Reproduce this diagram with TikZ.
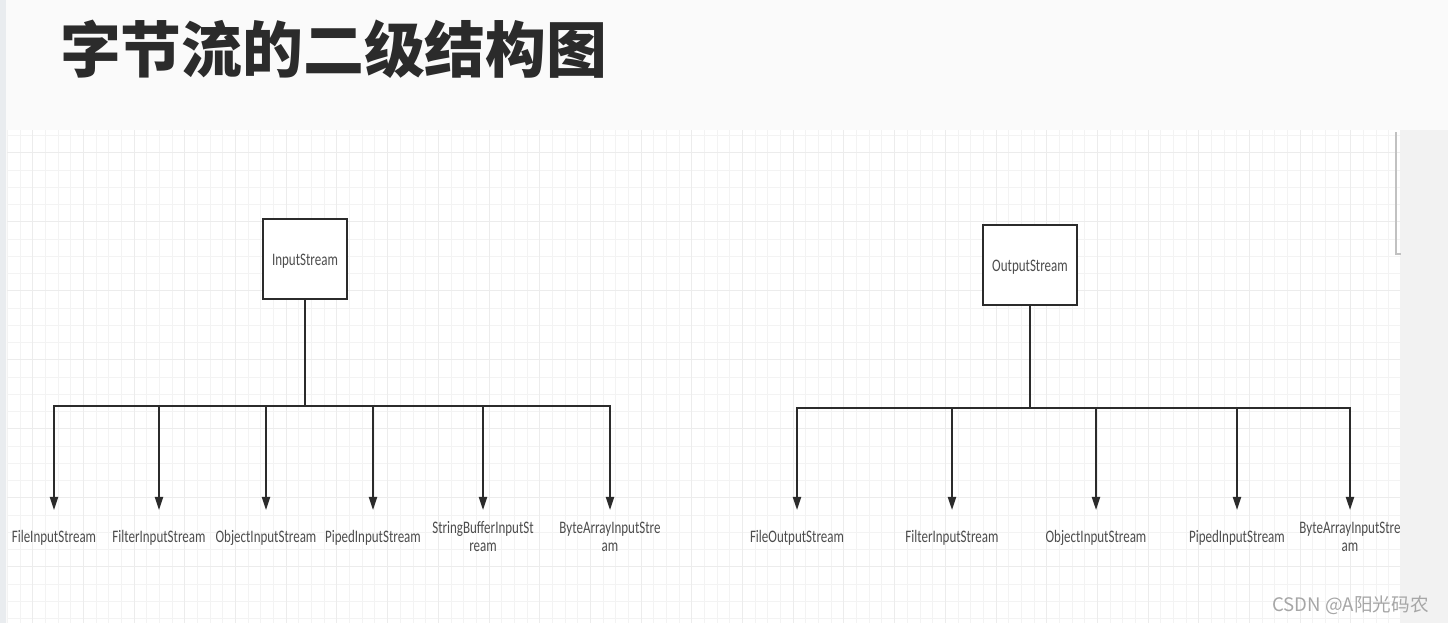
\documentclass[tikz,border=0pt]{standalone}
\usepackage{fontspec}
\setmainfont{Carlito}
\newfontfamily\cjk{Noto Sans CJK SC}
\usetikzlibrary{positioning, arrows.meta}
\definecolor{ink}{HTML}{2B2B2B}
\definecolor{txt}{HTML}{4D4D4D}
\definecolor{gridmin}{HTML}{F3F3F3}
\definecolor{gridmaj}{HTML}{ECECEC}
\definecolor{paper}{HTML}{FAFAFA}
\definecolor{side}{HTML}{F2F2F2}
\definecolor{edge}{HTML}{E9ECEF}
\definecolor{mark}{HTML}{A6A6A6}
\newcommand{\squeeze}[1]{\raisebox{-1.6pt}[\height][\depth]{\scalebox{0.74}[1]{\renewcommand{\arraystretch}{0.85}\begin{tabular}{@{}c@{}}#1\end{tabular}}}}
\tikzset{
  cls/.style={draw=ink, fill=white, line width=1.1pt, minimum height=1.6cm, inner sep=1pt,
              font=\fontsize{10}{12}\selectfont, text=txt},
  sub/.style={font=\fontsize{10}{12}\selectfont, text=txt, inner sep=0pt},
  conn/.style={draw=ink, line width=1.1pt},
  arr/.style={conn, -{Triangle[length=7.5pt, width=4.6pt]}},
  gmin/.style={draw=gridmin, line width=0.5pt},
  gmaj/.style={draw=gridmaj, line width=0.55pt},
}

\begin{document}
\begin{tikzpicture}[x=0.02cm, y=-0.02cm]
  \useasboundingbox (0,0) rectangle (1448,623);
  % page and grid paper
  \fill[paper] (0,0) rectangle (1448,623);
  \fill[side] (1400,130) rectangle (1448,623);
  \fill[edge] (0,0) rectangle (6,623);
  \fill[white] (7,130) rectangle (1400,623);
  \begin{scope}
    \clip (7,130) rectangle (1400,623);
    \foreach \i in {-1,...,27} \foreach \k in {1,2,3}
      \draw[gmin] ({32.7+50.7*\i+12.675*\k},130) -- ++(0,493);
    \foreach \j in {-1,...,6} \foreach \k in {1,2,3}
      \draw[gmin] (7,{152.7+69*\j+17.25*\k}) -- ++(1393,0);
    \foreach \i in {0,...,27} \draw[gmaj] ({32.7+50.7*\i},130) -- ++(0,493);
    \foreach \j in {0,...,6} \draw[gmaj] (7,{152.7+69*\j}) -- ++(1393,0);
  \end{scope}
  \draw[mark!70, line width=0.6pt] (1396,132) -- (1396,254) -- (1401,254);

  \node[font=\cjk\bfseries\fontsize{34.6}{35}\selectfont, text=ink, anchor=west] (title) at (54,49) {字节流的二级结构图};

  % InputStream
  \node[cls, minimum width=1.68cm] (in) at (305,259) {\squeeze{InputStream}};
  \coordinate (ibus) at (0,406);
  \coordinate (itip) at (0,510);
  \node[sub] (fis)  at (54,536)  {\squeeze{FileInputStream}};
  \node[sub] (flis) at (159,536) {\squeeze{FilterInputStream}};
  \node[sub] (ois)  at (266,536) {\squeeze{ObjectInputStream}};
  \node[sub] (pis)  at (373,536) {\squeeze{PipedInputStream}};
  \node[sub] (sbis) at (483,536) {\squeeze{StringBufferInputSt\\ream}};
  \node[sub] (bais) at (610,536) {\squeeze{ByteArrayInputStre\\am}};
  \draw[conn] (in.south) -- (in.south |- ibus);
  \draw[conn, line cap=rect] (fis |- ibus) -- (bais |- ibus);
  \foreach \c in {fis,flis,ois,pis,sbis,bais}
    \draw[arr] (\c |- ibus) -- (\c |- itip);

  % OutputStream
  \node[cls, minimum width=1.88cm] (out) at (1030,265) {\squeeze{OutputStream}};
  \coordinate (obus) at (0,408);
  \coordinate (otip) at (0,510);
  \node[sub] (fos)   at (797,536)  {\squeeze{FileOutputStream}};
  \node[sub] (oflis) at (952,536)  {\squeeze{FilterInputStream}};
  \node[sub] (oois)  at (1096,536) {\squeeze{ObjectInputStream}};
  \node[sub] (opis)  at (1237,536) {\squeeze{PipedInputStream}};
  \node[sub] (obais) at (1350,536) {\squeeze{ByteArrayInputStre\\am}};
  \draw[conn] (out.south) -- (out.south |- obus);
  \draw[conn, line cap=rect] (fos |- obus) -- (obais |- obus);
  \foreach \c in {fos,oflis,oois,opis,obais}
    \draw[arr] (\c |- obus) -- (\c |- otip);

  \node[font=\cjk\fontsize{10.6}{11}\selectfont, text=mark, anchor=east] (wm) at (1435,605) {CSDN @A阳光码农};
\end{tikzpicture}
\end{document}
